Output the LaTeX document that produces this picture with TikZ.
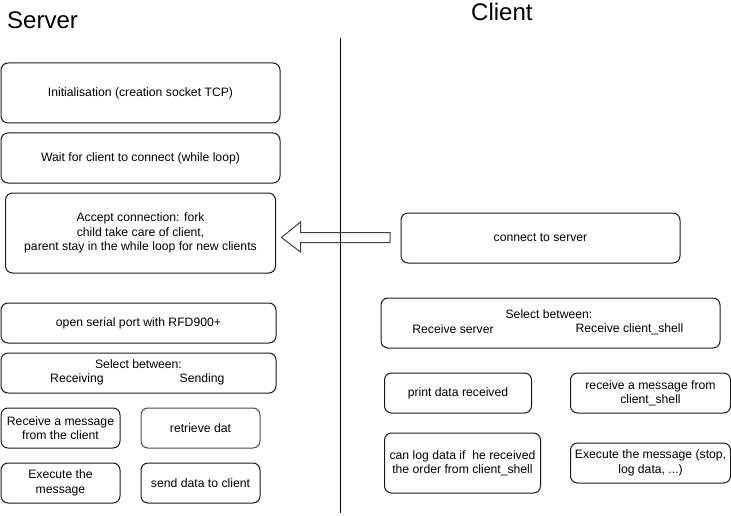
\documentclass[tikz,border=0pt]{standalone}
\usepackage{fontspec}
\setmainfont{Liberation Sans}
\begin{document}
\begin{tikzpicture}[x=1pt,y=-1pt,
  box/.style={draw=black!90,line width=1pt,rounded corners=7pt,inner sep=0pt,align=center,
    font=\fontsize{12.2}{14.4}\selectfont},
  title/.style={font=\fontsize{24}{28}\selectfont,inner sep=0pt,anchor=base west},
  lbl/.style={inner sep=0pt,font=\fontsize{12.2}{14.4}\selectfont},
  blockarrow/.style={black!75,line width=1pt,line join=miter}]
\useasboundingbox (0,0) rectangle (731,516);
% titles
\node[title] (tserver) at (7,29) {Server};
\node[title] (tclient) at (471,21) {Client};
% separator
\coordinate (ltop) at (340.5,38);
\coordinate (lbot) at (340.5,513);
\draw[line width=1pt] (ltop) -- (lbot);
% server boxes
\node[box,minimum width=279,minimum height=60] (init) at (140.5,93) {Initialisation (creation socket TCP)};
\node[box,minimum width=279,minimum height=50] (wait) at (140.5,158) {Wait for client to connect (while loop)};
\node[box,minimum width=270,minimum height=80] (accept) at (140.5,233) {Accept connection: fork\\child take care of client,\\parent stay in the while loop for new clients};
\node[box,minimum width=275,minimum height=40] (serial) at (138.5,323) {open serial port with RFD900+};
\node[box,minimum width=275,minimum height=40] (ssel) at (138.5,373) {};
\node[lbl] (sselt) at (138.5,364.5) {Select between:};
\node[lbl] (srecv) at (77,379.5) {Receiving};
\node[lbl] (ssend) at (202,379.5) {Sending};
\node[box,minimum width=119,minimum height=40] (rmsg) at (60.5,428) {Receive a message\\from the client};
\node[box,minimum width=119,minimum height=40,draw=black!70] (retr) at (200.5,428) {retrieve dat};
\node[box,minimum width=119,minimum height=40] (exec) at (60.5,483) {Execute the\\message};
\node[box,minimum width=119,minimum height=40] (send) at (200.5,483) {send data to client};
% client boxes
\node[box,minimum width=279,minimum height=50] (conn) at (540.5,238) {connect to server};
\node[box,minimum width=339,minimum height=50] (csel) at (550.5,323) {};
\node[lbl] (cselt) at (549,314) {Select between:};
\node[lbl] (crs) at (453,329) {Receive server};
\node[lbl] (crc) at (629.5,329) {Receive client\_shell};
\node[box,minimum width=147,minimum height=40] (print) at (458,393) {print data received};
\node[box,minimum width=160,minimum height=40] (rcs) at (650.5,393) {receive a message from\\client\_shell};
\node[box,minimum width=156,minimum height=60] (log) at (462.5,463) {can log data if\ \ he received\\the order from client\_shell};
\node[box,minimum width=160,minimum height=40] (cexec) at (650.5,463) {Execute the message (stop,\\log data, ...)};
% block arrow from client (conn) to server (accept)
\coordinate (tip) at ([xshift=5.5]accept.east |- 0,237.5);
\coordinate (tail) at ([xshift=-10.5]conn.west |- 0,237.5);
\draw[blockarrow]
  (tip) -- ++(19,-15.5) -- ++(0,10.5) -| ([yshift=5]tail) -- ([yshift=-5]tail) -| ([xshift=19,yshift=-5]tip)
  -- ++(0,9.5) -- cycle;
\end{tikzpicture}
\end{document}
